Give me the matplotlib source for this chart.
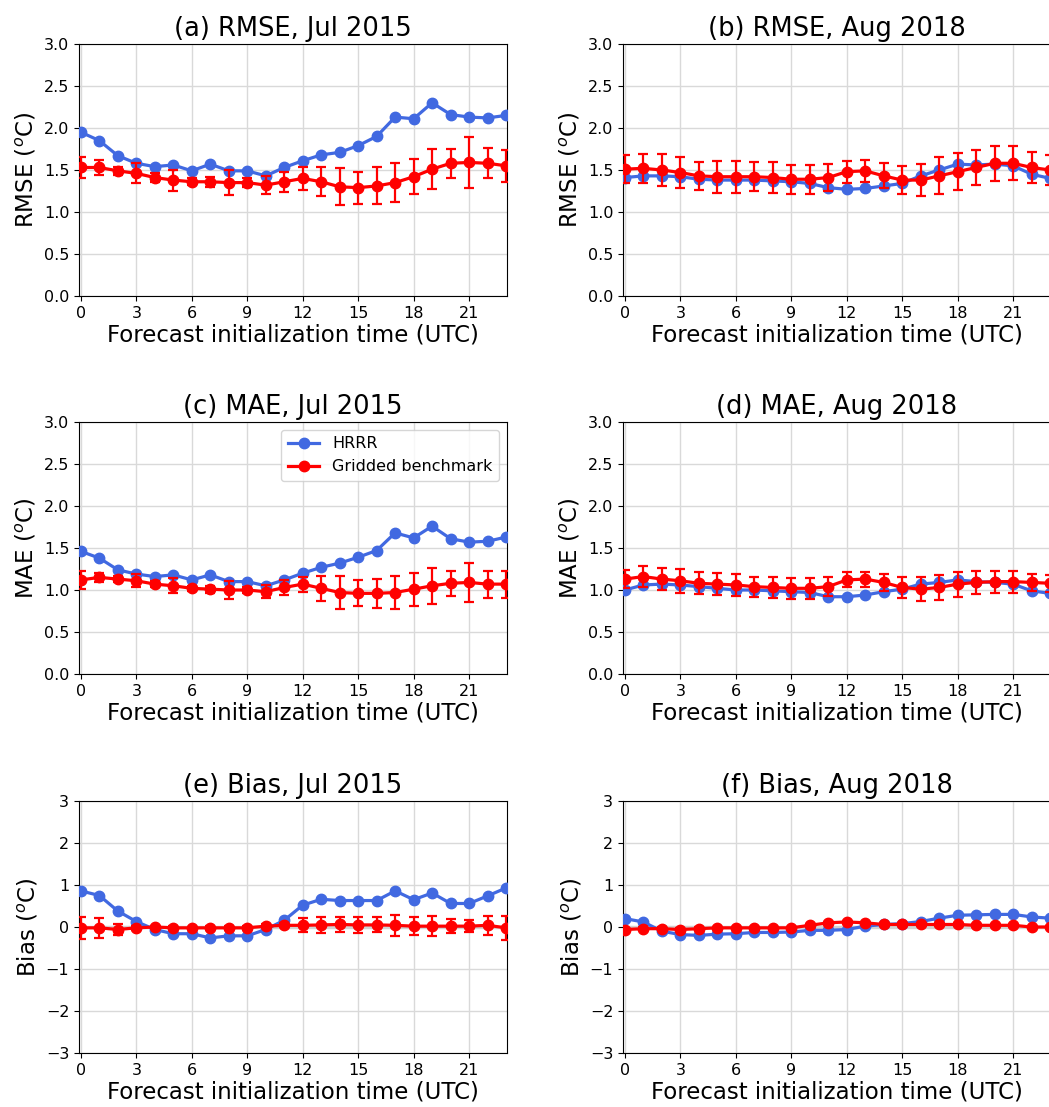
import matplotlib
matplotlib.use("Agg")
import matplotlib.pyplot as plt
import numpy as np

hours = np.arange(24)

# (a) RMSE, Jul 2015
rmse_jul_hrrr = [1.95, 1.85, 1.67, 1.58, 1.54, 1.56, 1.49, 1.57, 1.49, 1.49, 1.43, 1.53,
                 1.61, 1.68, 1.71, 1.79, 1.90, 2.13, 2.11, 2.30, 2.16, 2.13, 2.12, 2.15]
rmse_jul_bench = [1.53, 1.53, 1.49, 1.46, 1.41, 1.38, 1.36, 1.36, 1.35, 1.35, 1.32, 1.36,
                  1.40, 1.36, 1.30, 1.29, 1.31, 1.35, 1.42, 1.51, 1.58, 1.59, 1.58, 1.55]
rmse_jul_err = [0.13, 0.09, 0.05, 0.12, 0.05, 0.125, 0.04, 0.06, 0.15, 0.05, 0.11, 0.12,
                0.14, 0.17, 0.22, 0.19, 0.22, 0.23, 0.21, 0.235, 0.17, 0.30, 0.18, 0.19]

# (b) RMSE, Aug 2018
rmse_aug_hrrr = [1.41, 1.43, 1.43, 1.42, 1.39, 1.38, 1.38, 1.38, 1.37, 1.36, 1.34, 1.29,
                 1.27, 1.28, 1.31, 1.34, 1.43, 1.50, 1.57, 1.56, 1.57, 1.55, 1.45, 1.40]
rmse_aug_bench = [1.51, 1.52, 1.50, 1.47, 1.43, 1.42, 1.42, 1.42, 1.41, 1.39, 1.39, 1.41,
                  1.48, 1.49, 1.43, 1.38, 1.38, 1.43, 1.48, 1.53, 1.58, 1.58, 1.53, 1.50]
rmse_aug_err = [0.17, 0.17, 0.19, 0.18, 0.17, 0.19, 0.19, 0.17, 0.18, 0.17, 0.17, 0.16,
                0.13, 0.13, 0.15, 0.17, 0.195, 0.22, 0.22, 0.21, 0.21, 0.20, 0.18, 0.18]

# (c) MAE, Jul 2015
mae_jul_hrrr = [1.46, 1.38, 1.24, 1.19, 1.16, 1.18, 1.12, 1.18, 1.10, 1.10, 1.05, 1.12,
                1.20, 1.27, 1.32, 1.39, 1.47, 1.68, 1.62, 1.76, 1.61, 1.57, 1.58, 1.63]
mae_jul_bench = [1.12, 1.15, 1.13, 1.11, 1.07, 1.05, 1.02, 1.01, 1.00, 1.00, 0.98, 1.03,
                 1.07, 1.02, 0.97, 0.96, 0.96, 0.97, 1.01, 1.05, 1.08, 1.09, 1.07, 1.07]
mae_jul_err = [0.105, 0.05, 0.04, 0.08, 0.04, 0.09, 0.03, 0.04, 0.11, 0.03, 0.08, 0.085,
               0.09, 0.145, 0.195, 0.155, 0.175, 0.20, 0.195, 0.215, 0.15, 0.23, 0.16, 0.16]

# (d) MAE, Aug 2018
mae_aug_hrrr = [1.00, 1.06, 1.07, 1.06, 1.04, 1.02, 1.00, 1.00, 0.99, 0.98, 0.97, 0.92,
                0.92, 0.94, 0.98, 1.01, 1.07, 1.09, 1.12, 1.10, 1.09, 1.07, 0.99, 0.96]
mae_aug_bench = [1.13, 1.16, 1.13, 1.11, 1.08, 1.07, 1.06, 1.04, 1.03, 1.02, 1.02, 1.04,
                 1.12, 1.13, 1.09, 1.03, 1.01, 1.03, 1.07, 1.09, 1.10, 1.10, 1.09, 1.08]
mae_aug_err = [0.11, 0.125, 0.13, 0.14, 0.13, 0.13, 0.135, 0.12, 0.12, 0.125, 0.125, 0.11,
               0.09, 0.09, 0.10, 0.13, 0.14, 0.15, 0.15, 0.14, 0.13, 0.13, 0.10, 0.10]

# (e) Bias, Jul 2015
bias_jul_hrrr = [0.86, 0.75, 0.38, 0.13, -0.06, -0.16, -0.16, -0.26, -0.21, -0.21, -0.06, 0.16,
                 0.52, 0.66, 0.63, 0.63, 0.63, 0.86, 0.65, 0.81, 0.56, 0.56, 0.74, 0.93]
bias_jul_bench = [-0.02, -0.02, -0.06, -0.02, 0.0, -0.02, -0.02, -0.02, -0.02, -0.02, 0.02, 0.04,
                  0.04, 0.05, 0.06, 0.05, 0.05, 0.04, 0.02, 0.02, 0.02, 0.02, 0.04, -0.02]
bias_jul_err = [0.27, 0.24, 0.13, 0.05, 0.03, 0.04, 0.03, 0.04, 0.05, 0.04, 0.05, 0.05,
                0.17, 0.19, 0.18, 0.19, 0.18, 0.25, 0.21, 0.24, 0.17, 0.15, 0.22, 0.29]

# (f) Bias, Aug 2018
bias_aug_hrrr = [0.20, 0.12, -0.10, -0.18, -0.20, -0.17, -0.16, -0.13, -0.13, -0.12, -0.08, -0.08,
                 -0.06, 0.02, 0.06, 0.08, 0.13, 0.21, 0.28, 0.29, 0.30, 0.30, 0.24, 0.21]
bias_aug_bench = [-0.06, -0.04, -0.04, -0.06, -0.04, -0.02, -0.02, -0.02, -0.02, -0.02, 0.04, 0.10,
                  0.12, 0.10, 0.06, 0.06, 0.06, 0.06, 0.06, 0.04, 0.04, 0.04, 0.0, 0.0]
bias_aug_err = [0.03] * 24

panels = [
    ("(a) RMSE, Jul 2015", "RMSE", rmse_jul_hrrr, rmse_jul_bench, rmse_jul_err),
    ("(b) RMSE, Aug 2018", "RMSE", rmse_aug_hrrr, rmse_aug_bench, rmse_aug_err),
    ("(c) MAE, Jul 2015", "MAE", mae_jul_hrrr, mae_jul_bench, mae_jul_err),
    ("(d) MAE, Aug 2018", "MAE", mae_aug_hrrr, mae_aug_bench, mae_aug_err),
    ("(e) Bias, Jul 2015", "Bias", bias_jul_hrrr, bias_jul_bench, bias_jul_err),
    ("(f) Bias, Aug 2018", "Bias", bias_aug_hrrr, bias_aug_bench, bias_aug_err),
]

fig = plt.figure(figsize=(10.49, 11.07), dpi=100)

lefts = [79 / 1049, 623 / 1049]
bottoms = [1 - 296 / 1107, 1 - 674 / 1107, 1 - 1053 / 1107]
w = 428 / 1049
h = 252 / 1107

for i, (title, metric, hrrr, bench, err) in enumerate(panels):
    ax = fig.add_axes([lefts[i % 2], bottoms[i // 2], w, h])
    if metric == "Bias":
        ax.axhline(0, color="0.82", linewidth=2.5, zorder=1)
    ax.plot(hours, hrrr, marker="o", linestyle="-", color="royalblue",
            linewidth=2.3, markersize=7.5, label="HRRR", zorder=3)
    ax.plot(hours, bench, marker="o", linestyle="-", color="red",
            linewidth=2.3, markersize=7.5, label="Gridded benchmark", zorder=4)
    ax.errorbar(hours, bench, yerr=err, fmt="none", ecolor="red",
                elinewidth=1.6, capsize=3.5, capthick=1.6, zorder=4)
    ax.set_title(title, fontsize=18.5)
    ax.set_xlabel("Forecast initialization time (UTC)", fontsize=16.5, labelpad=2)
    ax.set_ylabel(metric + r" ($^o$C)", fontsize=16.5)
    ax.set_xlim(-0.1, 23.05)
    ax.set_xticks(np.arange(0, 22, 3))
    if metric == "Bias":
        ax.set_ylim(-3, 3)
        ax.set_yticks(np.arange(-3, 4, 1))
    else:
        ax.set_ylim(0, 3)
        ax.set_yticks(np.arange(0, 3.01, 0.5))
    ax.tick_params(labelsize=11.5)
    ax.grid(True, color="0.85", linewidth=1)
    ax.set_axisbelow(True)
    if i == 2:
        ax.legend(loc="upper right", fontsize=11.5)

fig.savefig("out.png", dpi=100)
